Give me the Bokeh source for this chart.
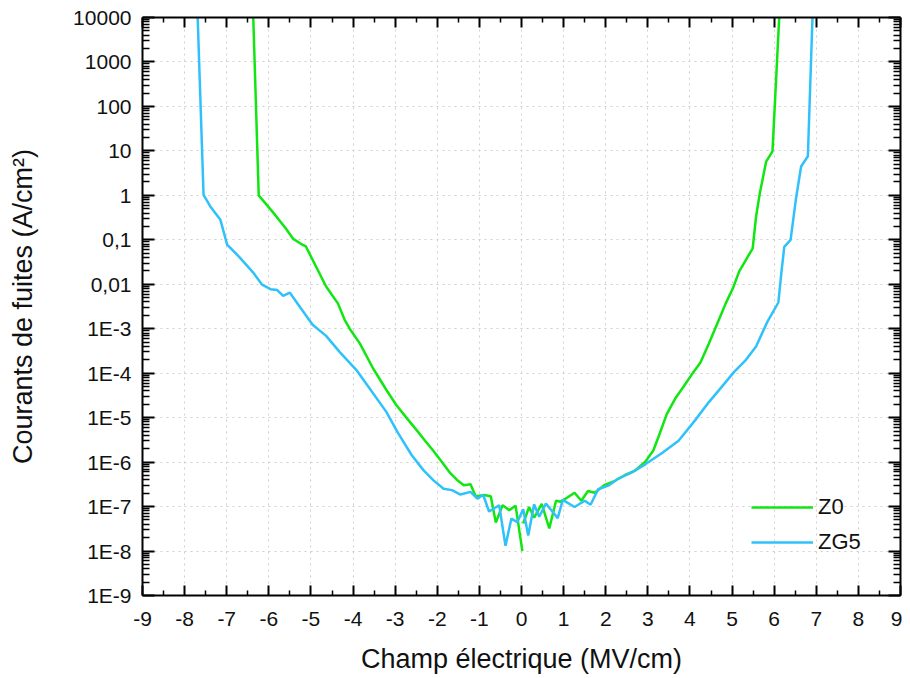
from bokeh.plotting import figure
from bokeh.models import (LinearAxis, LogAxis, FixedTicker, Legend, LegendItem,
                          Range1d, ColumnDataSource, CustomJSTickFormatter)
from bokeh.embed import file_html
from bokeh.resources import INLINE

# ---------------- data ----------------
z0_field = [-6.37, -6.24, -5.92, -5.60, -5.42, -5.24, -5.12, -4.88, -4.64, -4.36,
            -4.20, -4.08, -3.84, -3.52, -3.20, -2.97, -2.69, -2.49, -2.29, -2.09,
            -1.89, -1.69, -1.53, -1.37, -1.21, -1.09, -0.89, -0.73, -0.61, -0.45,
            -0.29, -0.14, 0.02, float("nan"), 0.04, 0.18, 0.30, 0.48, 0.66, 0.82,
            0.93, 1.10, 1.26, 1.42, 1.58, 1.74, 1.98, 2.22, 2.46, 2.70,
            2.94, 3.13, 3.25, 3.45, 3.65, 3.85, 4.05, 4.25, 4.45, 4.65,
            4.85, 5.02, 5.17, 5.33, 5.49, 5.57, 5.66, 5.81, 5.96, 6.12]
z0_log_current = [4.0, 0.0, -0.36, -0.74, -0.98, -1.09, -1.15, -1.60, -2.05, -2.43,
                  -2.80, -3.00, -3.33, -3.90, -4.39, -4.72, -5.05, -5.28, -5.52, -5.75,
                  -6.00, -6.25, -6.40, -6.52, -6.50, -6.77, -6.74, -6.77, -7.36, -6.97,
                  -7.08, -6.98, -8.00, float("nan"), -7.38, -7.01, -7.25, -6.94, -7.49, -6.87,
                  -6.89, -6.79, -6.69, -6.87, -6.65, -6.69, -6.51, -6.42, -6.29, -6.19,
                  -5.99, -5.74, -5.44, -4.92, -4.57, -4.30, -4.02, -3.76, -3.33, -2.88,
                  -2.43, -2.09, -1.71, -1.45, -1.19, -0.48, 0.05, 0.76, 0.99, 4.0]

zg5_field = [-7.69, -7.55, -7.39, -7.15, -6.99, -6.71, -6.36, -6.16, -5.96, -5.80,
             -5.66, -5.50, -5.24, -4.96, -4.64, -4.32, -3.92, -3.61, -3.21, -2.93,
             -2.61, -2.33, -2.09, -1.85, -1.65, -1.45, -1.21, -1.05, -0.91, -0.77,
             -0.53, -0.38, -0.24, -0.10, 0.04, 0.16, 0.30, 0.42, 0.58, 0.86,
             0.98, 1.26, 1.50, 1.64, 1.82, 2.06, 2.30, 2.62, 2.94, 3.33,
             3.73, 4.13, 4.45, 4.69, 5.05, 5.33, 5.57, 5.84, 6.10, 6.17,
             6.24, 6.39, 6.52, 6.64, 6.80, 6.91]
zg5_log_current = [4.0, 0.01, -0.25, -0.55, -1.11, -1.38, -1.75, -2.01, -2.11, -2.13,
                   -2.26, -2.19, -2.54, -2.91, -3.16, -3.52, -3.93, -4.34, -4.87, -5.35,
                   -5.84, -6.18, -6.41, -6.60, -6.63, -6.73, -6.67, -6.82, -6.74, -7.11,
                   -6.97, -7.88, -7.27, -7.35, -7.06, -7.65, -6.95, -7.23, -6.93, -7.26,
                   -6.85, -7.01, -6.87, -6.96, -6.61, -6.53, -6.37, -6.23, -6.05, -5.80,
                   -5.52, -5.05, -4.65, -4.38, -3.97, -3.70, -3.40, -2.84, -2.41, -1.75,
                   -1.16, -1.00, -0.06, 0.65, 0.88, 4.0]

series_names = ["Z0", "ZG5"]
x_ticks = list(range(-9, 10))
x_tick_labels = ["-9", "-8", "-7", "-6", "-5", "-4", "-3", "-2", "-1", "0",
                 "1", "2", "3", "4", "5", "6", "7", "8", "9"]
x_minor_ticks = [v + 0.5 for v in range(-9, 9)]
y_exponents = list(range(-9, 5))
y_tick_labels = ["1E-9", "1E-8", "1E-7", "1E-6", "1E-5", "1E-4", "1E-3",
                 "0,01", "0,1", "1", "10", "100", "1000", "10000"]

# ---------------- figure ----------------
GREEN = "#12e612"
BLUE = "#2fc2fa"
FONT = "Liberation Sans"

y_ticks = [10.0 ** e for e in y_exponents]
y_minor = [m * 10.0 ** e for e in y_exponents[:-1] for m in range(2, 10)]
xt = FixedTicker(ticks=x_ticks, minor_ticks=x_minor_ticks)
yt = FixedTicker(ticks=y_ticks, minor_ticks=y_minor)

p = figure(width=902, height=678, output_backend="svg", toolbar_location=None,
           y_axis_type="log",
           x_range=Range1d(-9, 9), y_range=Range1d(1e-9, 1e4),
           min_border_left=142, min_border_right=2, min_border_top=17,
           min_border_bottom=83)
p.outline_line_color = None
p.background_fill_color = "white"

src0 = ColumnDataSource(dict(x=z0_field, y=[10.0 ** v for v in z0_log_current]))
src1 = ColumnDataSource(dict(x=zg5_field, y=[10.0 ** v for v in zg5_log_current]))
r0 = p.line("x", "y", source=src0, line_color=GREEN, line_width=2.5)
r1 = p.line("x", "y", source=src1, line_color=BLUE, line_width=2.5)


def style_axis(ax, major_in, minor_in, labels=True):
    ax.axis_line_width = 2
    ax.axis_line_color = "black"
    ax.major_tick_in = major_in
    ax.major_tick_out = 0
    ax.minor_tick_in = minor_in
    ax.minor_tick_out = 0
    ax.major_tick_line_width = 2
    ax.minor_tick_line_width = 1.5
    ax.major_tick_line_color = "black"
    ax.minor_tick_line_color = "black"
    ax.major_label_text_font = FONT
    ax.major_label_text_color = "#111111"
    if labels:
        ax.major_label_text_font_size = "21px"
    else:
        ax.major_label_text_font_size = "1px"
        ax.formatter = CustomJSTickFormatter(code="return ''")
        ax.major_label_standoff = 0


xa = p.xaxis[0]
xa.ticker = xt
style_axis(xa, 10, 5)
xa.major_label_standoff = 16
xa.major_label_overrides = {t: lab for t, lab in zip(x_ticks, x_tick_labels)}
xa.axis_label = "Champ électrique (MV/cm)"
xa.axis_label_text_font = FONT
xa.axis_label_text_font_size = "27px"
xa.axis_label_text_font_style = "normal"
xa.axis_label_text_color = "#111111"
xa.axis_label_standoff = 15

ya = p.yaxis[0]
ya.ticker = yt
style_axis(ya, 12, 7)
ya.major_label_standoff = 11
ya.major_label_overrides = {t: lab for t, lab in zip(y_ticks, y_tick_labels)}
ya.axis_label = "Courants de fuites (A/cm²)"
ya.axis_label_text_font = FONT
ya.axis_label_text_font_size = "27px"
ya.axis_label_text_font_style = "normal"
ya.axis_label_text_color = "#111111"
ya.axis_label_standoff = 32

top = LinearAxis(ticker=xt)
style_axis(top, 10, 5, labels=False)
p.add_layout(top, "above")
right = LogAxis(ticker=yt)
style_axis(right, 12, 7, labels=False)
p.add_layout(right, "right")

for g, t in ((p.xgrid[0], xt), (p.ygrid[0], yt)):
    g.ticker = t
    g.grid_line_color = "#cfcfcf"
    g.grid_line_dash = "2 4"
    g.grid_line_width = 1

legend = Legend(items=[LegendItem(label=series_names[0], renderers=[r0]),
                       LegendItem(label=series_names[1], renderers=[r1])],
                location=(609, 40))
legend.padding = 0
legend.margin = 0
legend.spacing = 9
legend.glyph_width = 62
legend.glyph_height = 20
legend.label_height = 20
legend.label_standoff = 5
legend.label_text_font = FONT
legend.label_text_font_size = "22px"
legend.label_text_color = "#111111"
legend.border_line_color = None
legend.background_fill_alpha = 0
p.add_layout(legend)

open("out.html", "w").write(file_html(p, INLINE))
